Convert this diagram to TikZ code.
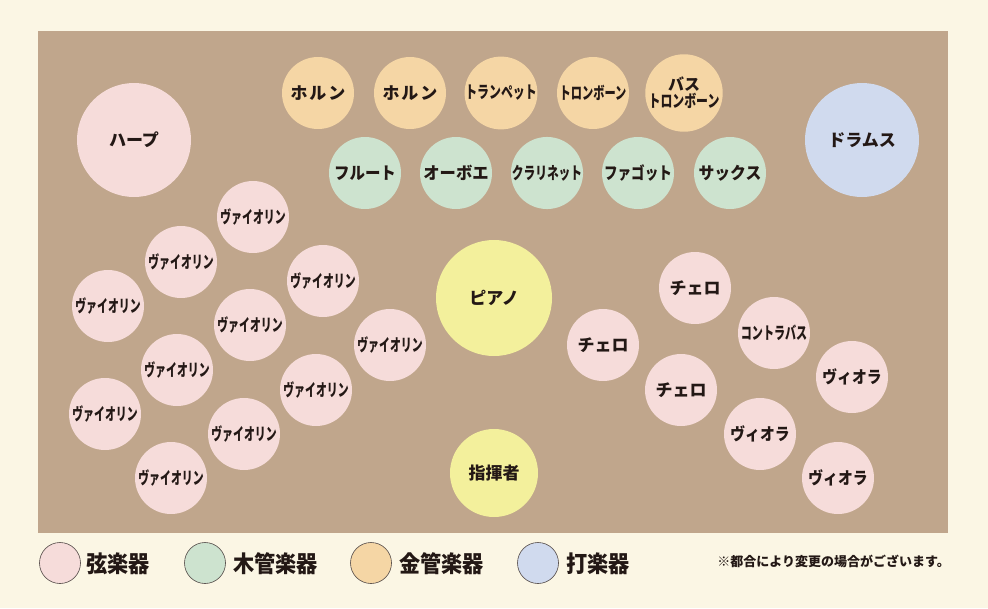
\documentclass[tikz,border=0pt]{standalone}
\usepackage{fontspec}
\setmainfont{Noto Sans CJK JP}
\usepackage{graphicx}
\definecolor{paper}{HTML}{FBF6E4}
\definecolor{board}{HTML}{C0A68C}
\definecolor{strc}{HTML}{F6DCDA}
\definecolor{woodc}{HTML}{CDE3CF}
\definecolor{brassc}{HTML}{F5D6A5}
\definecolor{percc}{HTML}{D0DAEE}
\definecolor{pianoc}{HTML}{F3F09C}
\definecolor{ink}{HTML}{231815}
\newcommand\sx[2]{\scalebox{#1}[1]{#2}}
\tikzset{
  inst/.style={circle, inner sep=0pt, minimum size=72pt, text=ink,
    font=\fontsize{17}{17}\selectfont\bfseries, align=center},
  str/.style={inst, fill=strc},
  wood/.style={inst, fill=woodc},
  brass/.style={inst, fill=brassc},
  perc/.style={inst, fill=percc},
  pia/.style={inst, fill=pianoc},
  legc/.style={circle, inner sep=0pt, minimum size=41pt, draw=ink!80, line width=0.6pt},
  legt/.style={anchor=west, inner sep=0pt, text=ink, font=\fontsize{23}{23}\selectfont\bfseries},
}
\begin{document}
\begin{tikzpicture}[x=1pt,y=-1pt]
\fill[paper] (0,0) rectangle (988,608);
\useasboundingbox (0,0) rectangle (988,608);
\fill[board] (38,31) rectangle (948,533);
% percussion / harp
\node[str, minimum size=114pt] (harp) at (134,140) {ハープ};
\node[perc, minimum size=114pt] (drums) at (862,140) {ドラムス};
% brass
\node[brass] (hr1) at (318,93) {ホ\hspace{2pt}ル\hspace{2pt}ン};
\node[brass] (hr2) at (410,93) {ホ\hspace{2pt}ル\hspace{2pt}ン};
\node[brass] (tp) at (501,93) {\sx{0.70}{トランペット}};
\node[brass] (tb) at (593,93) {\sx{0.66}{トロンボーン}};
\node[brass] (btb) at (684,93) {\fontsize{16}{20}\selectfont\bfseries バス\\\sx{0.70}{トロンボーン}};
% woodwinds
\node[wood] (fl) at (365,173) {\sx{0.91}{フルート}};
\node[wood] (ob) at (456,173) {\sx{0.96}{オーボエ}};
\node[wood] (cl) at (547,173) {\sx{0.69}{クラリネット}};
\node[wood] (fg) at (638,173) {\sx{0.8}{ファゴット}};
\node[wood] (sx) at (730,173) {\sx{0.93}{サックス}};
% piano, conductor
\node[pia, minimum size=116pt] (piano) at (494,298) {ピアノ};
\node[pia, minimum size=88pt] (cond) at (494,473) {指揮者};
% violins
\node[str] (v1) at (253,217) {\sx{0.64}{ヴァイオリン}};
\node[str] (v2) at (181,262) {\sx{0.64}{ヴァイオリン}};
\node[str] (v3) at (108,306) {\sx{0.64}{ヴァイオリン}};
\node[str] (v4) at (323,281) {\sx{0.64}{ヴァイオリン}};
\node[str] (v5) at (250,325) {\sx{0.64}{ヴァイオリン}};
\node[str] (v6) at (390,345) {\sx{0.64}{ヴァイオリン}};
\node[str] (v7) at (177,370) {\sx{0.64}{ヴァイオリン}};
\node[str] (v8) at (316,390) {\sx{0.64}{ヴァイオリン}};
\node[str] (v9) at (105,414) {\sx{0.64}{ヴァイオリン}};
\node[str] (v10) at (244,434) {\sx{0.64}{ヴァイオリン}};
\node[str] (v11) at (171,478) {\sx{0.64}{ヴァイオリン}};
% cellos etc
\node[str] (vc1) at (695,288) {チェロ};
\node[str] (vc2) at (603,345) {チェロ};
\node[str] (vc3) at (681,390) {チェロ};
\node[str] (cb) at (774,333) {\sx{0.65}{コントラバス}};
\node[str] (va1) at (852,377) {\sx{0.87}{ヴィオラ}};
\node[str] (va2) at (760,434) {\sx{0.87}{ヴィオラ}};
\node[str] (va3) at (838,478) {\sx{0.87}{ヴィオラ}};
% legend
\node[legc, fill=strc] (l1) at (60,563) {};
\node[legt] (l1t) at (86,564) {\sx{0.92}{弦楽器}};
\node[legc, fill=woodc] (l2) at (205,563) {};
\node[legt] (l2t) at (233,564) {\sx{0.92}{木管楽器}};
\node[legc, fill=brassc] (l3) at (371,563) {};
\node[legt] (l3t) at (399,564) {\sx{0.92}{金管楽器}};
\node[legc, fill=percc] (l4) at (538,563) {};
\node[legt] (l4t) at (566,564) {\sx{0.92}{打楽器}};
\node[anchor=east, inner sep=0pt, text=ink, font=\fontsize{13}{13}\selectfont\bfseries] (note) at (950,561) {※都合により変更の場合がございます。};
\end{tikzpicture}
\end{document}
